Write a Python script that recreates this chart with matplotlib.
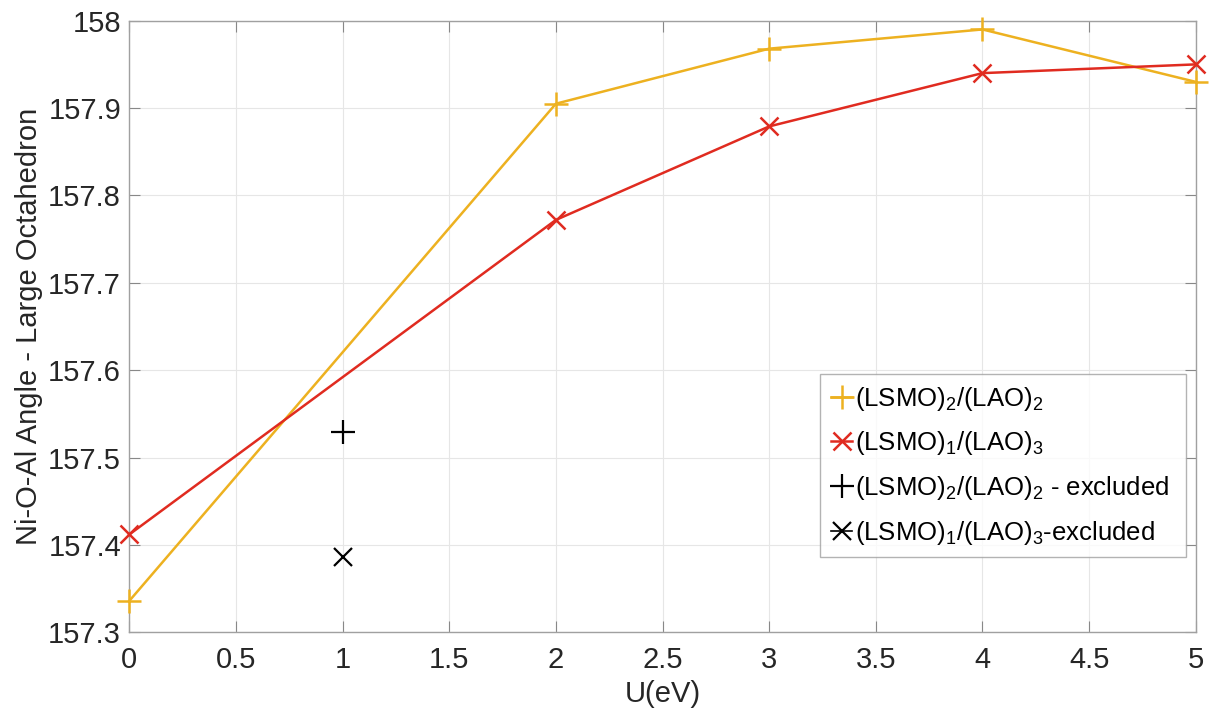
import matplotlib
matplotlib.use("Agg")
import matplotlib.pyplot as plt

plt.rcParams['font.family'] = ['Liberation Sans', 'DejaVu Sans']
plt.rcParams['mathtext.fontset'] = 'custom'
plt.rcParams['mathtext.rm'] = 'Liberation Sans'
plt.rcParams['mathtext.it'] = 'Liberation Sans'
plt.rcParams['mathtext.default'] = 'rm'

u = [0, 2, 3, 4, 5]
lsmo2_lao2 = [157.336, 157.905, 157.968, 157.990, 157.930]
u_red = [0, 2, 3, 4, 5]
lsmo1_lao3 = [157.412, 157.772, 157.879, 157.940, 157.950]
u_excl = [1]
lsmo2_lao2_excl = [157.529]
lsmo1_lao3_excl = [157.386]

labels = [r'(LSMO)$_2$/(LAO)$_2$', r'(LSMO)$_1$/(LAO)$_3$',
          r'(LSMO)$_2$/(LAO)$_2$ - excluded', r'(LSMO)$_1$/(LAO)$_3$-excluded']
xticks = [0, 0.5, 1, 1.5, 2, 2.5, 3, 3.5, 4, 4.5, 5]
yticks = [157.3, 157.4, 157.5, 157.6, 157.7, 157.8, 157.9, 158.0]

yellow = '#EDB120'
red = '#E02B20'

fig = plt.figure(figsize=(12.09, 7.19), dpi=100)
ax = fig.add_axes([0.107, 0.1206, 0.882, 0.8506])

ax.plot(u, lsmo2_lao2, color=yellow, lw=1.8, marker='+', ms=17, mew=1.8, label=labels[0], clip_on=False, zorder=3)
ax.plot(u_red, lsmo1_lao3, color=red, lw=1.8, marker='x', ms=13, mew=1.8, label=labels[1], clip_on=False, zorder=3)
ax.plot(u_excl, lsmo2_lao2_excl, color='black', lw=1.2, marker='+', ms=17, mew=1.6, label=labels[2], zorder=3)
ax.plot(u_excl, lsmo1_lao3_excl, color='black', lw=1.2, marker='x', ms=13, mew=1.6, label=labels[3], zorder=3)

ax.set_xlim(0, 5)
ax.set_ylim(157.3, 158.0)
ax.set_xticks(xticks)
ax.set_xticklabels([f'{t:g}' for t in xticks])
ax.set_yticks(yticks)
ax.set_yticklabels([f'{t:g}' for t in yticks])
ax.tick_params(direction='in', length=8, width=0.8, color='#888888', labelsize=21,
               top=True, right=True, pad=6)
ax.tick_params(axis='x', pad=10)
ax.grid(True, color='#E6E6E6', lw=0.8)
ax.set_axisbelow(True)
for s in ax.spines.values():
    s.set_color('#A0A0A0')
    s.set_linewidth(1.0)

ax.set_xlabel('U(eV)', fontsize=21, color='#262626', labelpad=4)
ax.set_ylabel('Ni-O-Al Angle - Large Octahedron', fontsize=21, color='#262626', labelpad=4)
for t in ax.get_xticklabels() + ax.get_yticklabels():
    t.set_color('#262626')

leg = ax.legend(loc='lower left', bbox_to_anchor=(0.648, 0.123, 0.343, 0.299),
                mode='expand', fontsize=18.5, handlelength=0.85, handletextpad=0.1,
                borderaxespad=0, frameon=True, fancybox=False, labelspacing=0.65,
                borderpad=0.4)
leg.get_frame().set_edgecolor('#A0A0A0')
leg.get_frame().set_linewidth(1.0)

fig.savefig('out.png', dpi=100)
